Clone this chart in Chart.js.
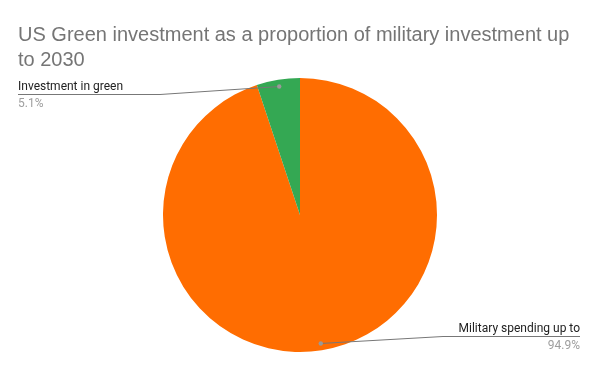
<!DOCTYPE html>
<html>
<head>
<meta charset="utf-8">
<script src="https://cdn.jsdelivr.net/npm/chart.js@4"></script>
<style>
  html, body { margin: 0; padding: 0; background: #fff; }
  #wrap { width: 600px; height: 371px; position: relative; }
</style>
</head>
<body>
<div id="wrap"><canvas id="pie-chart"></canvas></div>
<script>
var titleLines = ['US Green investment as a proportion of military investment up', 'to 2030'];
var categories = ['Military spending up to', 'Investment in green'];
var shares = [94.9, 5.1];
var sliceColors = ['#ff6d01', '#34a853'];

// leader lines + labels, the way the sheets export draws them
var leaderLabels = {
  id: 'leaderLabels',
  afterDatasetsDraw: function(chart) {
    var ctx = chart.ctx;
    var arcs = chart.getDatasetMeta(0).data;
    ctx.save();
    // title
    ctx.fillStyle = '#757575';
    ctx.font = '20px "Liberation Sans", Arial, sans-serif';
    ctx.textAlign = 'left';
    ctx.textBaseline = 'alphabetic';
    ctx.fillText(titleLines[0], 18, 41);
    ctx.fillText(titleLines[1], 18, 66);

    arcs.forEach(function(arc, i) {
      var mid = (arc.startAngle + arc.endAngle) / 2;
      var r = arc.outerRadius * 0.95;
      var px = arc.x + Math.cos(mid) * r;
      var py = arc.y + Math.sin(mid) * r;
      var left = Math.cos(mid) < 0 && Math.sin(mid) < 0;
      var lineY, bendX, endX, align;
      if (left) {
        lineY = 94; bendX = 160; endX = 18; align = 'left';
      } else {
        lineY = 336; bendX = 443; endX = 580; align = 'right';
      }
      ctx.strokeStyle = '#777';
      ctx.lineWidth = 1;
      ctx.beginPath();
      ctx.moveTo(px, py);
      ctx.lineTo(bendX, lineY + 0.5);
      ctx.lineTo(endX, lineY + 0.5);
      ctx.stroke();
      ctx.fillStyle = '#999';
      ctx.beginPath();
      ctx.arc(px, py, 2.2, 0, Math.PI * 2);
      ctx.fill();

      ctx.textAlign = align;
      ctx.font = '12px Roboto, "Liberation Sans", sans-serif';
      ctx.fillStyle = '#222';
      ctx.fillText(categories[i], endX, lineY - 4);
      ctx.fillStyle = '#9e9e9e';
      ctx.fillText(shares[i].toFixed(1) + '%', endX, lineY + 13);
    });
    ctx.restore();
  }
};

new Chart(document.getElementById('pie-chart'), {
  type: 'pie',
  data: {
    labels: categories,
    datasets: [{
      data: shares,
      backgroundColor: sliceColors,
      borderWidth: 0
    }]
  },
  options: {
    responsive: true,
    maintainAspectRatio: false,
    animation: false,
    layout: {
      padding: { top: 78, bottom: 19, left: 0, right: 0 }
    },
    plugins: {
      legend: { display: false },
      title: { display: false },
      tooltip: { enabled: false }
    }
  },
  plugins: [leaderLabels]
});
</script>
</body>
</html>
